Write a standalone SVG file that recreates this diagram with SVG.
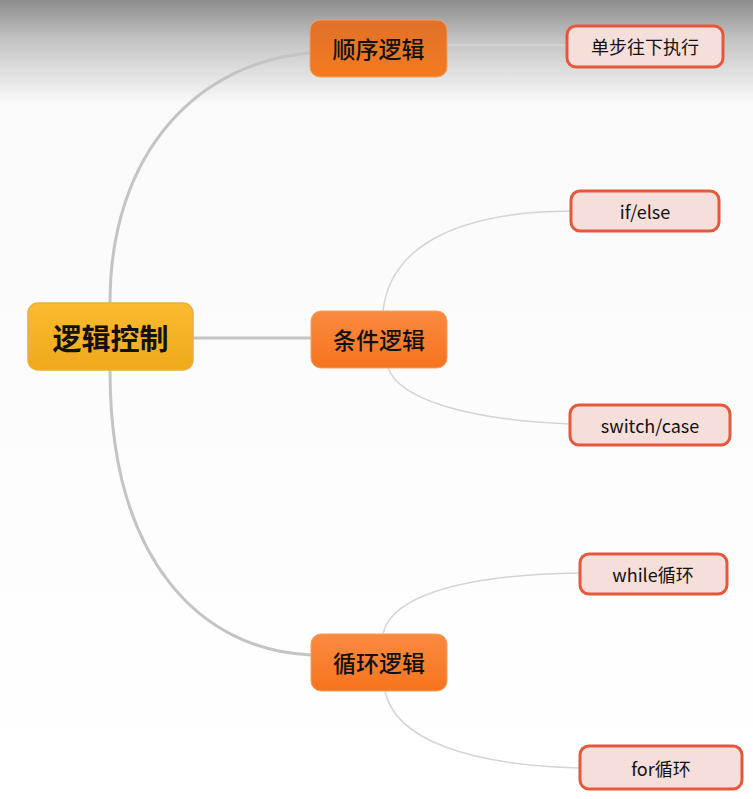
<svg xmlns="http://www.w3.org/2000/svg" width="753" height="799" viewBox="0 0 753 799">
<defs>
<linearGradient id="bg" x1="0" y1="0" x2="0" y2="1"><stop offset="0" stop-color="#8c8c8c"/><stop offset="0.05" stop-color="#c4c4c4"/><stop offset="0.13" stop-color="#fafafa"/><stop offset="1" stop-color="#ffffff"/></linearGradient>
<linearGradient id="og" x1="0" y1="0" x2="0" y2="1"><stop offset="0" stop-color="#e0712a"/><stop offset="1" stop-color="#f47a20"/></linearGradient>
<linearGradient id="og2" x1="0" y1="0" x2="0" y2="1"><stop offset="0" stop-color="#fb8a40"/><stop offset="1" stop-color="#f5741e"/></linearGradient>
<linearGradient id="yg" x1="0" y1="0" x2="0" y2="1"><stop offset="0" stop-color="#fbbb30"/><stop offset="1" stop-color="#f0a81c"/></linearGradient>
</defs>
<style>
.t{font-family:"Noto Sans CJK SC","Liberation Sans",sans-serif;text-anchor:middle;dominant-baseline:central;fill:#111}
.thick{fill:none;stroke:#c4c4c4;stroke-width:3}
.thin{fill:none;stroke:#d4d4d4;stroke-width:1.5}
.leaf{fill:#f6dedb;stroke:#e4583c;stroke-width:3}
.mid{stroke:#f0a060;stroke-width:1}
</style>
<rect width="753" height="799" fill="url(#bg)"/>
<g id="connectors">
<path class="thick" d="M110,303 C110,150 200,62 310,53"/>
<path class="thick" d="M193,338 L311,338"/>
<path class="thick" d="M110,370 C110,560 200,650 311,655"/>
<path class="thin" d="M447,45 L566,45"/>
<path class="thin" d="M383,311 C390,250 450,212 570,211"/>
<path class="thin" d="M388,368 C400,400 470,420 569,424"/>
<path class="thin" d="M383,634 C390,600 450,575 579,573"/>
<path class="thin" d="M385,691 C395,740 470,765 579,768"/>
</g>
<g id="root"><rect x="28" y="303" width="165" height="67" rx="10" fill="url(#yg)" stroke="#e8b040" stroke-width="1.5"/><text class="t" x="110.5" y="337" font-size="29" font-weight="bold">逻辑控制</text></g>
<g id="shunxu"><rect class="mid" x="310" y="20" width="137" height="57" rx="10" fill="url(#og)"/><text class="t" x="378.5" y="48" font-size="23" font-weight="500">顺序逻辑</text></g>
<g id="tiaojian"><rect class="mid" x="311" y="311" width="136" height="57" rx="10" fill="url(#og2)"/><text class="t" x="379" y="339" font-size="23" font-weight="500">条件逻辑</text></g>
<g id="xunhuan"><rect class="mid" x="311" y="634" width="136" height="57" rx="10" fill="url(#og2)"/><text class="t" x="379" y="662" font-size="23" font-weight="500">循环逻辑</text></g>
<g id="danbu"><rect class="leaf" x="567" y="26" width="156" height="41" rx="9"/><text class="t" x="645" y="46" font-size="18">单步往下执行</text></g>
<g id="ifelse"><rect class="leaf" x="571" y="191" width="148" height="40" rx="9"/><text class="t" x="645" y="211" font-size="18">if/else</text></g>
<g id="switch"><rect class="leaf" x="570" y="405" width="160" height="40" rx="9"/><text class="t" x="650" y="425" font-size="18">switch/case</text></g>
<g id="while"><rect class="leaf" x="580" y="554" width="147" height="40" rx="9"/><text class="t" x="653" y="574" font-size="18">while循环</text></g>
<g id="for"><rect class="leaf" x="580" y="746" width="162" height="43" rx="9"/><text class="t" x="661" y="768" font-size="18">for循环</text></g>
</svg>
